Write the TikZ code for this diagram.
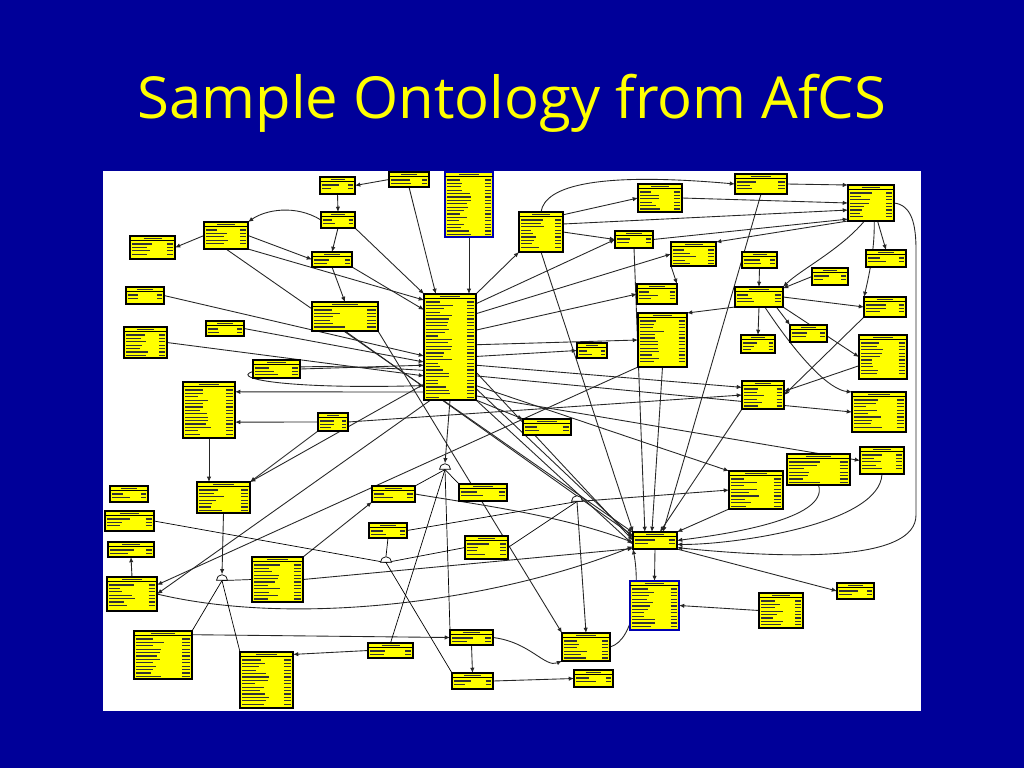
\documentclass[tikz,border=0pt]{standalone}
\usepackage{fontspec}
\newfontfamily\titlefont{Open Sans}
\usetikzlibrary{arrows.meta, shapes.geometric, calc}
\pgfdeclarelayer{bg}
\pgfdeclarelayer{links}
\pgfsetlayers{bg,links,main}
\definecolor{slideblue}{RGB}{0,0,153}
\definecolor{entyellow}{RGB}{255,255,0}

% entity box: [style] name, x1, y1, x2, y2 (slide pixels)
\newcommand{\entity}[6][]{%
  \node[entbox, #1, minimum width={(#5-#3)*0.02cm}, minimum height={(#6-#4)*0.02cm}]
    (#2) at ({(#3+#5)/2},{(#4+#6)/2}) {};
  \draw[entrow] ({(#3+#5)/2-(#5-#3)*0.2},{#4+2.2}) -- ({(#3+#5)/2+(#5-#3)*0.2},{#4+2.2});
  \draw[entline] (#3,{#4+4.5}) -- (#5,{#4+4.5});
  \pgfmathtruncatemacro\nrows{(#6-#4-7)/3.4}
  \foreach \row in {1,...,\nrows}{
    \pgfmathsetmacro\yy{#4+4.6+3.4*\row}
    \pgfmathsetmacro\ll{#3+2+(#5-#3)*(0.22+0.3*rnd)}
    \draw[entrow] ({#3+2},\yy) -- (\ll,\yy);
    \draw[entrow] ({#5-2-(#5-#3)*0.13},\yy) -- ({#5-2},\yy);
  }
}

\begin{document}
\begin{tikzpicture}[
    x=0.02cm, y=-0.02cm,
    entbox/.style={draw=black, fill=entyellow, line width=0.6pt, inner sep=0pt, outer sep=0pt},
    entblue/.style={draw=blue!70!black},
    entline/.style={black, line width=0.5pt},
    entrow/.style={black!80, line width=0.75pt},
    link/.style={black!85, line width=0.5pt, -{Latex[length=3pt,width=2.5pt]}},
    joint/.style={semicircle, draw, fill=white, line width=0.4pt, inner sep=0pt,
                  minimum width=0.22cm, minimum height=0.11cm}
  ]
  \pgfmathsetseed{7}
  \useasboundingbox (0,0) rectangle (1024,768);

  % Slide and panel
  \begin{pgfonlayer}{bg}
    \fill[slideblue] (0,0) rectangle (1024,768);
    \fill[white] (103,171) rectangle (921,711);
  \end{pgfonlayer}
  \node[anchor=base, text=entyellow, font=\titlefont\fontsize{33}{40}\selectfont, inner sep=0pt]
    (title) at (512,118) {Sample Ontology from AfCS};

  % Entities, top left
  \entity{e01}{320}{177}{355}{194}
  \entity{e02}{321}{212}{355}{228}
  \entity{e03}{204}{222}{248}{249}
  \entity{e04}{130}{236}{175}{259}
  \entity{e05}{312}{252}{352}{267}
  \entity{e06}{126}{287}{164}{304}
  \entity{e07}{312}{302}{378}{331}
  \entity{e08}{206}{321}{244}{336}
  \entity{e09}{124}{327}{167}{358}
  \entity{e10}{253}{360}{300}{378}
  \entity{e11}{389}{172}{429}{187}
  \entity[entblue]{e12}{445}{172}{493}{237}
  \entity{e13}{424}{294}{476}{400}

  % Entities, top right
  \entity{e14}{519}{212}{563}{252}
  \entity{e15}{638}{184}{682}{212}
  \entity{e16}{735}{174}{787}{194}
  \entity{e17}{848}{185}{894}{221}
  \entity{e18}{615}{231}{653}{248}
  \entity{e19}{671}{242}{716}{266}
  \entity{e20}{637}{284}{677}{304}
  \entity{e21}{638}{313}{687}{367}
  \entity{e22}{577}{343}{607}{358}
  \entity{e23}{742}{252}{777}{268}
  \entity{e24}{812}{268}{848}{285}
  \entity{e25}{735}{287}{783}{307}
  \entity{e26}{866}{250}{906}{267}
  \entity{e27}{864}{297}{906}{317}
  \entity{e28}{790}{325}{827}{342}
  \entity{e29}{741}{335}{775}{353}
  \entity{e30}{859}{335}{907}{379}
  \entity{e31}{742}{381}{784}{409}
  \entity{e32}{852}{392}{906}{432}
  \entity{e33}{523}{419}{571}{435}

  % Entities, bottom left
  \entity{e34}{183}{382}{235}{438}
  \entity{e35}{318}{413}{348}{431}
  \entity{e36}{197}{482}{250}{513}
  \entity{e37}{110}{486}{148}{502}
  \entity{e38}{105}{511}{154}{531}
  \entity{e39}{108}{542}{154}{557}
  \entity{e40}{107}{577}{157}{611}
  \entity{e41}{252}{557}{303}{602}
  \entity{e42}{372}{486}{415}{502}
  \entity{e43}{459}{484}{507}{501}
  \entity{e44}{369}{523}{407}{538}
  \entity{e45}{465}{536}{508}{559}
  \entity{e46}{134}{631}{192}{679}
  \entity{e47}{240}{652}{293}{708}
  \entity{e48}{368}{643}{413}{658}
  \entity{e49}{450}{630}{493}{645}
  \entity{e50}{452}{673}{493}{689}

  % Entities, bottom right
  \entity[line width=1.2pt]{e51}{633}{532}{677}{549}
  \entity[entblue]{e52}{630}{581}{679}{630}
  \entity{e53}{759}{593}{803}{628}
  \entity{e54}{837}{583}{874}{599}
  \entity{e55}{729}{471}{783}{509}
  \entity{e56}{787}{454}{850}{485}
  \entity{e57}{860}{447}{904}{474}
  \entity{e58}{562}{633}{610}{661}
  \entity{e59}{574}{670}{613}{687}

  % Joins
  \node[joint] (j1) at (445,467) {};
  \node[joint] (j2) at (222,578) {};
  \node[joint] (j3) at (386,560) {};
  \node[joint] (j4) at (577,499) {};
  \coordinate (rtop) at (916,250);
  \coordinate (rbot) at (916,515);

  \begin{pgfonlayer}{links}
  % Top left relations
  \draw[link] (e11.west) -- (e01.east);
  \draw[link] (e01.south) -- (e02.north);
  \draw[link] (e02.west) .. controls (295,204) and (265,210) .. (e03.north east);
  \draw[link] (e03.west) -- (e04.east);
  \draw[link] (e02.south) -- (e05.north);
  \draw[link] (e05.south) -- (e07.north);
  \draw[link] (e02.south east) -- (e13.north west);
  \draw[link] (e03.east) -- (e05.west);
  \draw[link] (e03.south east) -- (e13.119);
  \draw[link] (e05.south east) -- (e13.125);
  \draw[link] (e06.east) -- (e13.199);
  \draw[link] (e08.east) -- (e13.210);
  \draw[link] (e09.east) -- (e13.228);
  \draw[link] (e13.222) .. controls (190,355) and (190,392) .. (e13.236);
  \draw[link] (e10.east) -- (e13.215);
  \draw[link] (e11.south) -- (e13.105);
  \draw[link] (e12.south) -- (e12.south |- e13.north);
  \draw[link] (e03.south) -- (e51.160);
  \draw[link] (e07.south) -- (e51.168);
  \draw[link] (e07.south east) -- (e58.north west);

  % Central entity to the right
  \draw[link] (e13.north east) -- (e14.south west);
  \draw[link] (e13.59) -- (e18.west);
  \draw[link] (e13.52) -- (e19.west);
  \draw[link] (e13.33) -- (e20.west);
  \draw[link] (e13.5) -- (e21.west);
  \draw[link] (e13.-20) -- (e22.west);
  \draw[link] (e13.-35) -- (e31.160);
  \draw[link] (e13.-48) -- (e32.west);
  \draw[link] (e13.-56) -- (e55.north west);
  \draw[link] (e13.-62) -- (e57.west);
  \draw[link] (e13.-44) -- (e51.west);
  \draw[link] (e13.-58) -- (e51.172);
  \draw[link] (e13.south east) -- (e33.north west);
  \draw[link] (e13.south east) -- (e51.190);

  % Top right relations
  \draw[link] (e14.north) .. controls (545,185) and (600,172) .. (e16.west);
  \draw[link] (e14.38) -- (e15.west);
  \draw[link] (e14.20) -- (e17.197);
  \draw[link] (e14.east) -- (e18.west);
  \draw[link] (e15.east) -- (e17.west);
  \draw[link] (e18.east) -- (e17.215);
  \draw[link] (e16.east) -- (e17.north west);
  \draw[link] (e17.south west) -- (e19.north east);
  \draw[link] (e17.250) .. controls (840,250) and (800,270) .. (e25.north east);
  \draw[link] (e17.-70) -- (e26.north);
  \draw[link] (e17.-80) .. controls (875,250) and (868,280) .. (e27.north west);
  \draw[link] (e19.south west) -- (e20.north east);
  \draw[link] (e23.south) -- (e25.north);
  \draw[link] (e24.west) -- (e25.20);
  \draw[link] (e25.east) -- (e27.west);
  \draw[link] (e25.-30) -- (e28.north west);
  \draw[link] (e25.south) -- (e29.north);
  \draw[link] (e25.south east) -- (e30.west);
  \draw[link] (e25.-60) .. controls (800,360) and (830,390) .. (e32.north west);
  \draw[link] (e25.south west) -- (e21.north east);
  \draw[link] (e27.south west) -- (e31.east);
  \draw[link] (e30.200) -- (e31.10);
  \draw[link] (e21.south west) -- (e40.20);
  \draw[link] (e35.east) -- (e31.west);

  % Into the hub
  \draw[link] (e16.south) -- (e51.47);
  \draw[link] (e18.south) -- (e51.140);
  \draw[link] (e14.south) -- (e51.north west);
  \draw[link] (e21.south) -- (e51.110);
  \draw[link] (e31.south west) -- (e51.60);
  \draw[link] (e55.south west) -- (e51.north east);
  \draw[link] (e56.south) .. controls (830,520) and (720,535) .. (e51.east);
  \draw[link] (e57.south) .. controls (880,525) and (730,545) .. (e51.-10);
  \draw[link] (e17.east) .. controls (912,205) and (916,225) .. (rtop) -- (rbot)
    .. controls (916,560) and (800,560) .. (e51.-18);
  \draw[link] (e40.east) .. controls (300,628) and (500,600) .. (e51.195);
  \draw[link] (e41.east) -- (e51.200);
  \draw[link] (e42.east) .. controls (480,505) and (560,515) .. (e51.185);
  \draw[link] (e58.east) .. controls (635,640) and (640,585) .. (e51.south west);
  \draw[link] (e51.south) -- (e52.north);
  \draw[link] (e53.west) -- (e52.east);
  \draw[link] (e51.south east) -- (e54.west);

  % Bottom left relations
  \draw[link] (e13.240) -- (e34.35);
  \draw[link] (e35.west) -- (e34.-25);
  \draw[link] (e35.south west) -- (e36.north east);
  \draw[link] (e34.south) -- (e34.south |- e36.north);
  \draw[link] (e13.250) -- (e40.east);
  \draw[link] (e13.235) -- (e36.north east);
  \draw[link] (e40.north) -- (e39.south);
  \draw[link] (e41.north east) -- (e42.south west);
  \draw[link] (e46.35) -- (e49.west);
  \draw[link] (e48.west) -- (e47.44);
  \draw[link] (e49.south) -- (e50.north);
  \draw[link] (e49.east) .. controls (530,642) and (545,668) .. (e58.south west);
  \draw[link] (e50.east) -- (e59.west);

  % Joins
  \draw[link] (e13.south) -- (j1.apex);
  \draw (j1.chord center) -- (e42.north east);
  \draw (j1.chord center) -- (e43.north west);
  \draw (j1.chord center) -- (e48.north);
  \draw (j1.chord center) -- (e49.north west);
  \draw[link] (e36.south) -- (j2.apex);
  \draw (j2.chord center) -- (e41.west);
  \draw (j2.chord center) -- (e46.north east);
  \draw (j2.chord center) -- (e47.north west);
  \draw (e38.east) -- (j3.chord center);
  \draw (j3.apex) -- (e44.south);
  \draw (j3.chord center) -- (e45.west);
  \draw (j3.chord center) -- (e50.north west);
  \draw (e44.east) -- (j4.chord center);
  \draw (e45.east) -- (j4.chord center);
  \draw[link] (j4.chord center) -- (e55.west);
  \draw[link] (j4.chord center) -- (e58.north);
  \end{pgfonlayer}
\end{tikzpicture}
\end{document}
